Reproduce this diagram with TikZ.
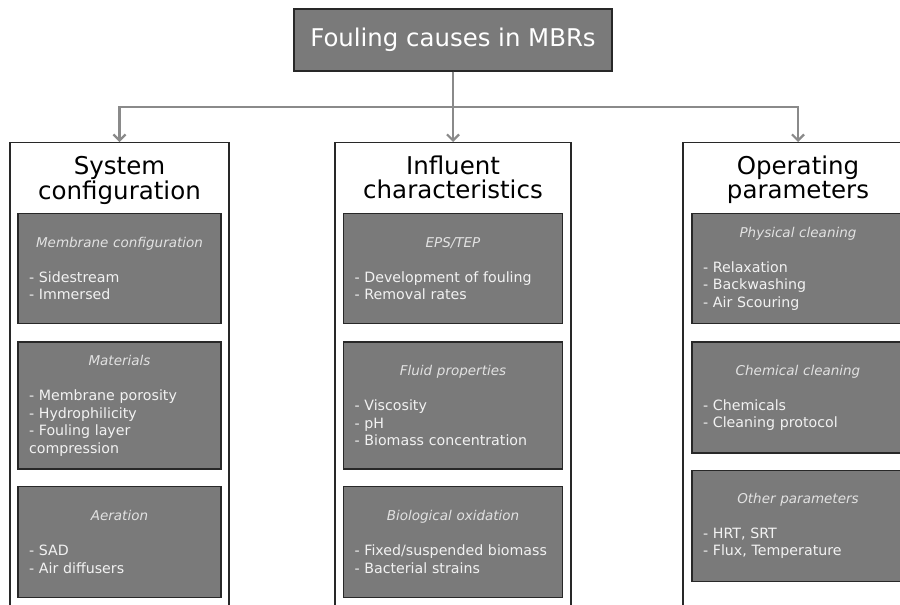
\documentclass[tikz,border=0pt]{standalone}
\usepackage{fontspec}
\setmainfont{DejaVu Sans}
\usepackage{tikz}
\usetikzlibrary{arrows.meta, positioning}
\definecolor{boxgray}{RGB}{122,122,122}
\definecolor{edgegray}{RGB}{40,40,40}
\definecolor{linkgray}{RGB}{138,138,138}
\definecolor{titlegray}{RGB}{226,226,226}
\definecolor{itemgray}{RGB}{242,242,242}
\newcommand{\Topic}[1]{{\centering\fontsize{13.5}{17.5}\selectfont\itshape\color{titlegray}#1\par}\vspace{\baselineskip}}
\tikzset{
    root/.style={draw=edgegray, line width=1.2pt, fill=boxgray, text=white,
      minimum width=318pt, minimum height=62pt, font=\fontsize{24.4}{28}\selectfont},
    column/.style={draw=edgegray, line width=1.2pt, fill=white, anchor=north, minimum height=520pt},
    heading/.style={align=center, inner sep=0pt, font=\fontsize{24.5}{23.4}\selectfont},
    cause/.style={draw=edgegray, line width=1.4pt, fill=boxgray, text=itemgray, align=left,
      inner xsep=11pt, inner ysep=0pt, font=\fontsize{14.2}{17.5}\selectfont},
}

\begin{document}
\begin{tikzpicture}[x=1pt, y=-1pt]
    \tikzset{
      link/.style={draw=linkgray, line width=2.6pt,
        -{Straight Barb[length=6pt, width=12pt, line width=2.2pt]}},
    }
    \clip (0,0) rectangle (900,605);

    \node[root] (root) at (453,40) {Fouling causes in MBRs};

    \node[column, minimum width=219pt] (sys) at (119.5,142) {};
    \node[column, minimum width=236pt] (inf) at (453,142) {};
    \node[column, minimum width=230pt] (ops) at (798,142) {};

    \node[heading, below=14pt of sys.north] (sysHead) {System\\configuration};
    \node[heading, below=14pt of inf.north] (infHead) {Influent\\characteristics};
    \node[heading, below=14pt of ops.north] (opsHead) {Operating\\parameters};

    \node[cause, text width=181pt, minimum height=110pt, below=71pt of sys.north] (memb)
      {\Topic{Membrane configuration}- Sidestream\\- Immersed};
    \node[cause, text width=181pt, minimum height=127pt, below=17pt of memb] (mater)
      {\Topic{Materials}- Membrane porosity\\- Hydrophilicity\\- Fouling layer\\compression};
    \node[cause, text width=181pt, minimum height=111pt, below=16pt of mater] (aer)
      {\Topic{Aeration}- SAD\\- Air diffusers};

    \node[cause, text width=197pt, minimum height=110pt, below=71pt of inf.north] (eps)
      {\Topic{EPS/TEP}- Development of fouling\\- Removal rates};
    \node[cause, text width=197pt, minimum height=127pt, below=17pt of eps] (fluid)
      {\Topic{Fluid properties}- Viscosity\\- pH\\- Biomass concentration};
    \node[cause, text width=197pt, minimum height=111pt, below=16pt of fluid] (bio)
      {\Topic{Biological oxidation}- Fixed/suspended biomass\\- Bacterial strains};

    \node[cause, text width=190pt, minimum height=110pt, below=71pt of ops.north] (phys)
      {\Topic{Physical cleaning}- Relaxation\\- Backwashing\\- Air Scouring};
    \node[cause, text width=190pt, minimum height=111pt, below=17pt of phys] (chem)
      {\Topic{Chemical cleaning}- Chemicals\\- Cleaning protocol};
    \node[cause, text width=190pt, minimum height=111pt, below=16pt of chem] (other)
      {\Topic{Other parameters}- HRT, SRT\\- Flux, Temperature};

    \coordinate (bus) at (453,107);
    \draw[link] (root.south) -- (inf.north);
    \draw[link] (root.south) |- (bus) -| (sys.north);
    \draw[link] (root.south) |- (bus) -| (ops.north);
\end{tikzpicture}
\end{document}
